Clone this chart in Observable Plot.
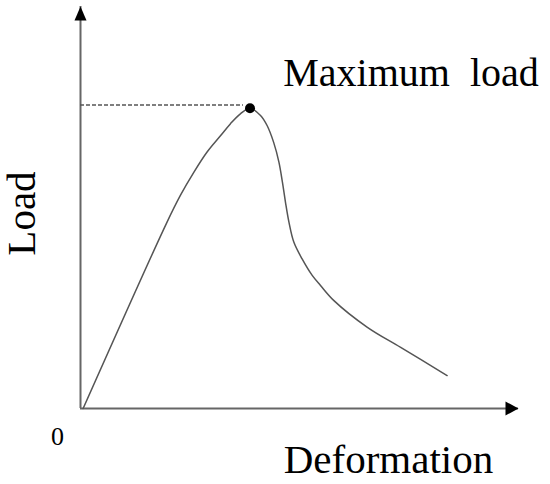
<!DOCTYPE html>
<html>
<head>
<meta charset="utf-8">
<script src="https://cdn.jsdelivr.net/npm/d3@7"></script>
<script src="https://cdn.jsdelivr.net/npm/@observablehq/plot@0.6"></script>
<style>
  html, body { margin: 0; padding: 0; background: #fff; }
  #chart svg text { white-space: pre; font-family: "Liberation Serif", "Times New Roman", Times, serif; }
</style>
</head>
<body>
<div id="chart"></div>
<script>
// Load–deformation curve (arbitrary units)
const deformation = [0.6, 19.6, 22.8, 25.9, 28.9, 32.0, 34.2, 36.5, 38.7, 41.1, 42.6, 44.1, 45.3, 46.1, 46.8, 47.6, 48.7, 50.6, 52.9, 54.8, 57.8, 65.5, 73.1, 83.7];
const load        = [0.0, 46.0, 53.0, 58.8, 63.8, 67.9, 70.8, 73.3, 74.7, 72.9, 70.4, 66.2, 61.3, 56.3, 51.3, 46.3, 41.4, 37.2, 33.1, 30.6, 26.9, 20.2, 15.2, 8.2];
const peakDeformation = 38.7;
const peakLoad = 74.7;
const maxLoadLine = 75.5;
const dashEnd = 37.2;
const axisMax = 100;

const labelMax = "Maximum  load";
const labelX = "Deformation";
const labelY = "Load";
const labelOrigin = "0";

const curve = deformation.map((d, i) => ({x: d, y: load[i]}));

const upHead = {draw(ctx) { ctx.moveTo(0, 0); ctx.lineTo(-6, 14); ctx.lineTo(6, 14); ctx.closePath(); }};
const rightHead = {draw(ctx) { ctx.moveTo(0, 0); ctx.lineTo(-13, -7); ctx.lineTo(-13, 7); ctx.closePath(); }};

const font = "Liberation Serif, Times New Roman, Times, serif";

const chart = Plot.plot({
  width: 550,
  height: 484,
  marginLeft: 80,
  marginRight: 32,
  marginTop: 6,
  marginBottom: 76,
  x: {domain: [0, axisMax], axis: null},
  y: {domain: [0, axisMax], axis: null},
  style: {background: "#fff", overflow: "visible"},
  marks: [
    // axes
    Plot.ruleX([0], {y1: 0, y2: axisMax, stroke: "#666", strokeWidth: 2}),
    Plot.ruleY([0], {x1: 0, x2: axisMax, stroke: "#666", strokeWidth: 2}),
    Plot.dot([{x: 0, y: axisMax}], {x: "x", y: "y", symbol: upHead, fill: "#000", stroke: "none"}),
    Plot.dot([{x: axisMax, y: 0}], {x: "x", y: "y", symbol: rightHead, fill: "#000", stroke: "none"}),
    // dashed max-load line
    Plot.ruleY([maxLoadLine], {x1: 0, x2: dashEnd, stroke: "#555", strokeWidth: 1.3, strokeDasharray: "4,2"}),
    // curve
    Plot.line(curve, {x: "x", y: "y", curve: "catmull-rom", stroke: "#555", strokeWidth: 1.5}),
    // peak point
    Plot.dot([{x: peakDeformation, y: peakLoad}], {x: "x", y: "y", r: 5, fill: "#000", stroke: "none"}),
    // labels
    Plot.text([labelMax], {x: 46.3, y: 80.3, text: d => d, textAnchor: "start", lineAnchor: "bottom", fontSize: 40, fill: "#000", fontFamily: font}),
    Plot.text([labelX], {x: 46.4, y: -16, text: d => d, textAnchor: "start", lineAnchor: "bottom", fontSize: 41, fill: "#000", fontFamily: font}),
    Plot.text([labelY], {x: -10.4, y: 48.5, text: d => d, rotate: -90, textAnchor: "middle", lineAnchor: "bottom", fontSize: 41, fill: "#000", fontFamily: font}),
    Plot.text([labelOrigin], {x: -5.25, y: -9, text: d => d, textAnchor: "middle", lineAnchor: "bottom", fontSize: 26, fill: "#000", fontFamily: font})
  ]
});
document.getElementById("chart").appendChild(chart);
</script>
</body>
</html>
